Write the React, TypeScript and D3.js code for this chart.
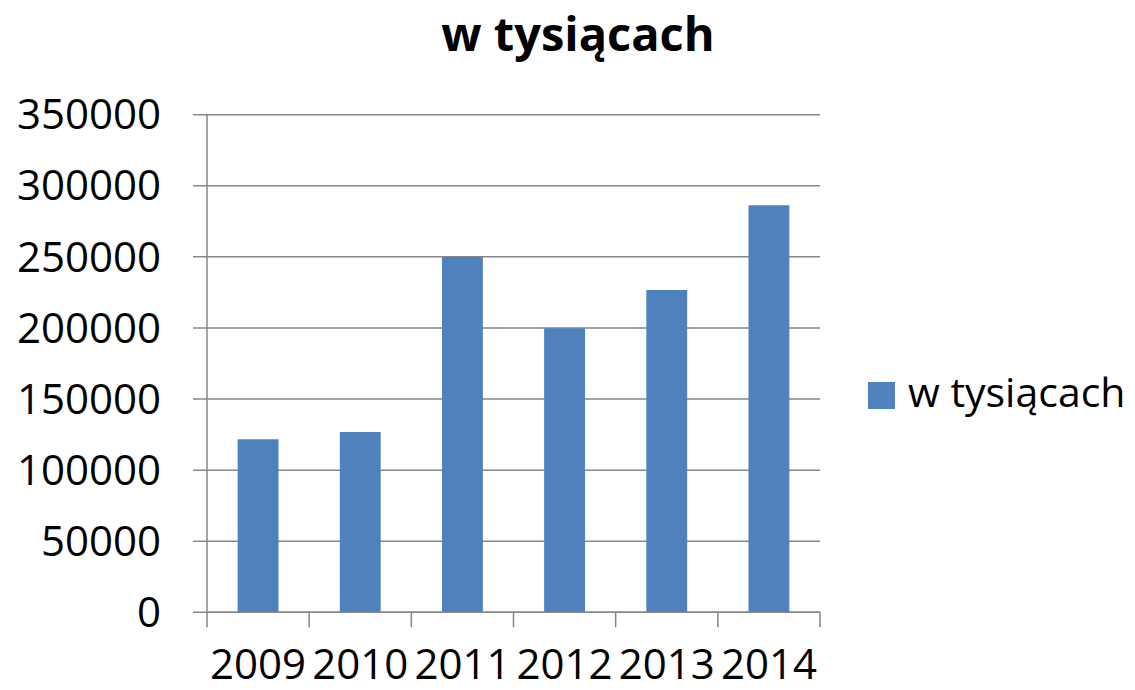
import React from "react";
import * as d3 from "d3";

// chart data
const years = ["2009", "2010", "2011", "2012", "2013", "2014"];
const values = [121700, 126800, 249900, 199800, 226700, 286300];
const yTicks = [0, 50000, 100000, 150000, 200000, 250000, 300000, 350000];
const seriesName = "w tysiącach";
const title = "w tysiącach";

const width = 1135;
const height = 690;
const barColor = "#4f81bd";
const gridColor = "#878787";
const font = "'Open Sans', sans-serif";

const App = () => {
  const plot = { left: 207, right: 820, top: 114.7, bottom: 612.3 };

  // bars sit in the middle 40% of each category
  const x = d3
    .scaleBand()
    .domain(years)
    .range([plot.left, plot.right])
    .paddingInner(0.6)
    .paddingOuter(0.3);

  const cat = d3.scaleBand().domain(years).range([plot.left, plot.right]);

  const y = d3.scaleLinear().domain([0, 350000]).range([plot.bottom, plot.top]);

  return (
    <svg
      width={width}
      height={height}
      style={{ position: "absolute", left: 0, top: 0, background: "#fff" }}
      fontFamily={font}
    >
      <text
        x={578}
        y={51}
        textAnchor="middle"
        fontSize={47}
        fontWeight="bold"
        fill="#000"
      >
        {title}
      </text>

      {/* gridlines + y ticks */}
      {yTicks.map((t) => (
        <g key={t}>
          <line
            x1={193}
            x2={plot.right}
            y1={y(t)}
            y2={y(t)}
            stroke={gridColor}
            strokeWidth={1.5}
          />
          <text
            x={161}
            y={y(t)}
            dy="0.35em"
            textAnchor="end"
            fontSize={42}
            fill="#000"
          >
            {t}
          </text>
        </g>
      ))}

      {/* bars */}
      {years.map((yr, i) => (
        <rect
          key={yr}
          x={x(yr)}
          y={y(values[i])}
          width={x.bandwidth()}
          height={y(0) - y(values[i])}
          fill={barColor}
        />
      ))}

      {/* axes */}
      <line
        x1={plot.left}
        x2={plot.left}
        y1={plot.top}
        y2={plot.bottom}
        stroke={gridColor}
        strokeWidth={1.5}
      />
      <line
        x1={plot.left}
        x2={plot.right}
        y1={plot.bottom}
        y2={plot.bottom}
        stroke={gridColor}
        strokeWidth={1.5}
      />
      {[...years.map((yr) => cat(yr) as number), plot.right].map((px, i) => (
        <line
          key={i}
          x1={px}
          x2={px}
          y1={plot.bottom}
          y2={plot.bottom + 15}
          stroke={gridColor}
          strokeWidth={1.5}
        />
      ))}
      {years.map((yr) => (
        <text
          key={yr}
          x={(cat(yr) as number) + cat.bandwidth() / 2}
          y={679}
          textAnchor="middle"
          fontSize={42}
          fill="#000"
        >
          {yr}
        </text>
      ))}

      {/* legend */}
      <rect x={868} y={382} width={27} height={27} fill={barColor} />
      <text x={908} y={407} fontSize={41} fill="#000">
        {seriesName}
      </text>
    </svg>
  );
};

export default App;
